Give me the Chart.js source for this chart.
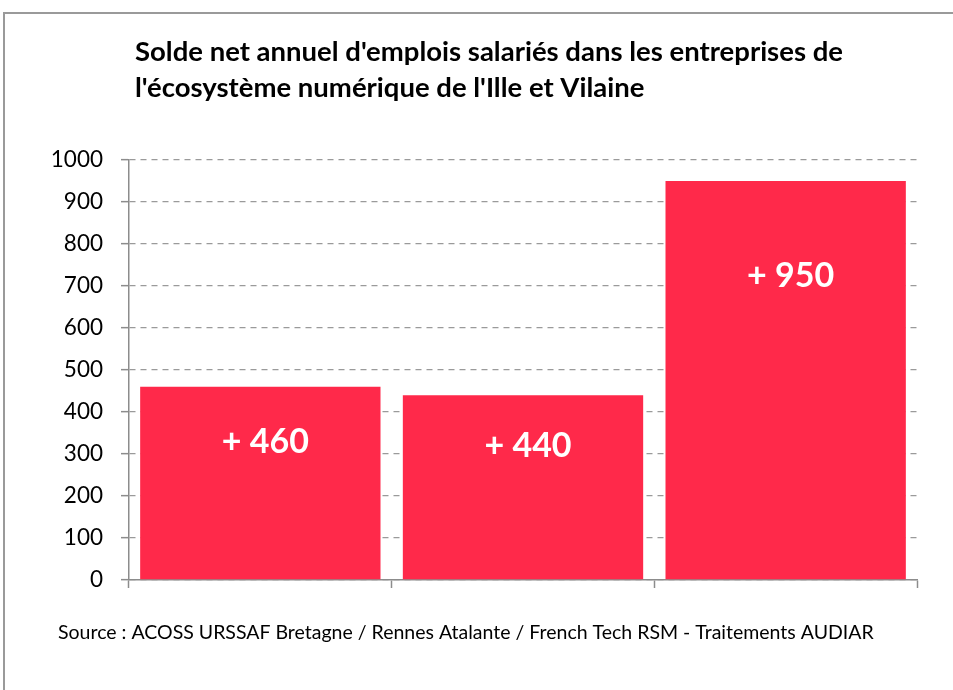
<!DOCTYPE html>
<html>
<head>
<meta charset="utf-8">
<script src="https://cdn.jsdelivr.net/npm/chart.js@4.4.1/dist/chart.umd.min.js"></script>
<style>
  html, body { margin: 0; padding: 0; background: #fff; }
  #wrap { width: 953px; height: 690px; }
</style>
</head>
<body>
<div id="wrap"><canvas id="graf" width="953" height="690"></canvas></div>
<script>
const categories = ['', '', '']
const soldeNet = [460, 440, 950]
const etiquettes = ['+ 460', '+ 440', '+ 950']
// hauteur (en valeur) où sont posées les étiquettes dans chaque barre
const etiquetteA = [328, 318, 723]
const ticksY = [0, 100, 200, 300, 400, 500, 600, 700, 800, 900, 1000]

const titreLignes = [
  "Solde net annuel d'emplois salariés dans les entreprises de",
  "l'écosystème numérique de l'Ille et Vilaine"
]
const source = 'Source : ACOSS URSSAF Bretagne / Rennes Atalante / French Tech RSM - Traitements AUDIAR'

const police = 'Lato, "Open Sans", sans-serif'
const gris = '#8c8c8c'

const decor = {
  id: 'decor',
  beforeDraw(chart) {
    const ctx = chart.ctx
    ctx.save()
    ctx.fillStyle = '#fff'
    ctx.fillRect(0, 0, chart.width, chart.height)
    // cadre
    ctx.strokeStyle = '#9a9a9a'
    ctx.lineWidth = 2
    ctx.beginPath()
    ctx.moveTo(4, chart.height)
    ctx.lineTo(4, 13)
    ctx.lineTo(chart.width + 2, 13)
    ctx.stroke()
    // titre
    ctx.fillStyle = '#000'
    ctx.font = 'bold 27.5px ' + police
    ctx.textBaseline = 'middle'
    ctx.textAlign = 'left'
    ctx.fillText(titreLignes[0], 135, 52)
    ctx.fillText(titreLignes[1], 135, 88)
    // source
    ctx.font = '19.5px ' + police
    ctx.fillText(source, 58, 633)
    ctx.restore()
  },
  afterDatasetsDraw(chart) {
    const ctx = chart.ctx
    const y = chart.scales.y
    ctx.save()
    ctx.fillStyle = '#fff'
    ctx.font = 'bold 34px ' + police
    ctx.textAlign = 'center'
    ctx.textBaseline = 'middle'
    chart.getDatasetMeta(0).data.forEach((barre, i) => {
      ctx.fillText(etiquettes[i], barre.x + 5, y.getPixelForValue(etiquetteA[i]))
    })
    ctx.restore()
  }
}

new Chart(document.getElementById('graf'), {
  type: 'bar',
  data: {
    labels: categories,
    datasets: [{
      label: 'Solde net',
      data: soldeNet,
      backgroundColor: 'rgb(255, 41, 74)',
      borderWidth: 0,
      categoryPercentage: 1,
      barPercentage: 0.915
    }]
  },
  options: {
    responsive: false,
    animation: false,
    layout: { padding: { top: 160, right: 36, bottom: 0, left: 0 } },
    plugins: {
      legend: { display: false },
      tooltip: { enabled: false },
      title: { display: false }
    },
    scales: {
      x: {
        afterFit(scale) { scale.height = 110 },
        ticks: { display: false },
        grid: {
          offset: true,
          drawOnChartArea: false,
          tickLength: 8,
          tickColor: gris,
          tickWidth: 1.5
        },
        border: { color: gris, width: 1.5 }
      },
      y: {
        min: 0,
        max: 1000,
        afterFit(scale) { scale.width = 129 },
        afterBuildTicks(scale) { scale.ticks = ticksY.map(v => ({ value: v })) },
        ticks: {
          color: '#000',
          padding: 18,
          font: { family: police, size: 22.5 },
          callback: v => String(v)
        },
        grid: {
          color: '#9a9a9a',
          lineWidth: 1.3,
          tickLength: 8,
          tickColor: gris,
          tickWidth: 1.5,
          tickBorderDash: []
        },
        border: { color: gris, width: 1.5, dash: [6, 5] }
      }
    }
  },
  plugins: [decor]
})
</script>
</body>
</html>
